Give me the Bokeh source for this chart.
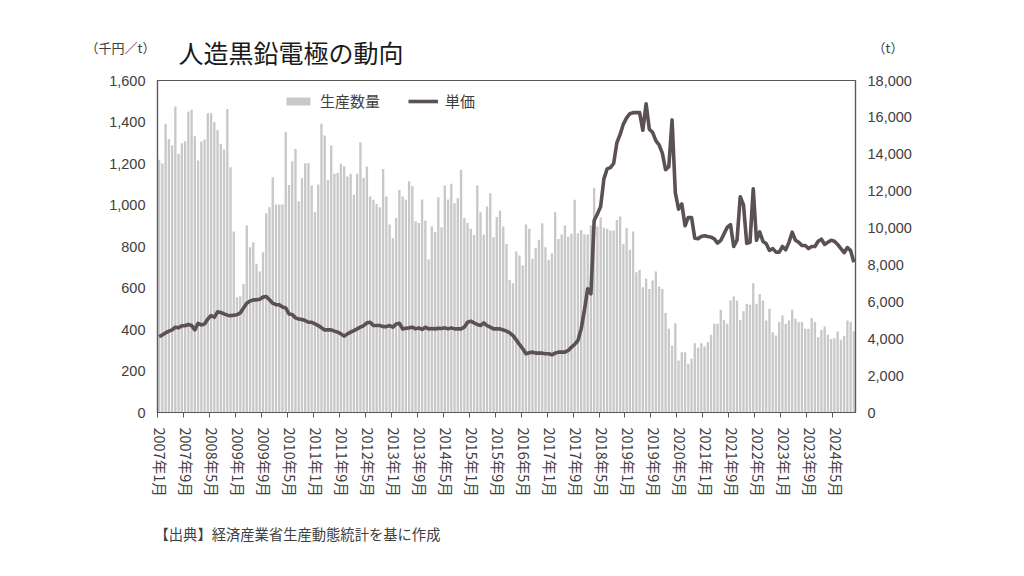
from bokeh.plotting import figure
from bokeh.models import (ColumnDataSource, Range1d, LinearAxis, FixedTicker,
                          NumeralTickFormatter, Label, Legend, LegendItem)
from bokeh.embed import file_html
from bokeh.resources import INLINE

# ---- data (monthly, 2007年1月 .. 2024年11月) ----
tick_labels = ["2007年1月", "2007年9月", "2008年5月", "2009年1月", "2009年9月",
               "2010年5月", "2011年1月", "2011年9月", "2012年5月", "2013年1月",
               "2013年9月", "2014年5月", "2015年1月", "2015年9月", "2016年5月",
               "2017年1月", "2017年9月", "2018年5月", "2019年1月", "2019年9月",
               "2020年5月", "2021年1月", "2021年9月", "2022年5月", "2023年1月",
               "2023年9月", "2024年5月"]

# 生産数量 (t)
qty = [13700, 13500, 15650, 14830, 14470, 16590, 14020, 14600, 14710, 16320,
       16410, 14980, 13660, 14690, 14800, 16230, 16230, 15740, 15320, 14560,
       14260, 16460, 13300, 9810, 6250, 6300, 6970, 10140, 8960, 9230,
       8060, 7640, 8690, 10800, 11130, 12760, 11280, 11280, 11280, 15200,
       12340, 13620, 14290, 11460, 12700, 13520, 13520, 12310, 10860, 12360,
       15650, 15020, 12610, 14470, 12940, 12990, 13480, 13350, 12790, 12940,
       11800, 12940, 14650, 12720, 13340, 11710, 11530, 11310, 11130, 13200,
       11710, 10190, 9450, 10550, 12070, 11710, 11530, 12540, 12270, 10370,
       10280, 11550, 10410, 8290, 10100, 9780, 11670, 10050, 12310, 11550,
       12400, 11350, 11620, 13160, 10550, 10280, 9960, 9630, 12310, 10860,
       9650, 11170, 11890, 9500, 10600, 10950, 10080, 9140, 7190, 7010,
       8730, 8510, 7970, 10190, 9960, 8330, 8930, 9360, 10260, 8960,
       8280, 8640, 10860, 9410, 9650, 10140, 9540, 9690, 11530, 9720,
       9900, 9650, 9650, 10140, 12180, 10080, 10590, 10010, 9960, 9870,
       9870, 10440, 10620, 9140, 9990, 8820, 9810, 7610, 7730, 6790,
       7250, 6700, 7160, 7640, 6830, 6700, 5400, 4540, 3630, 4840,
       2820, 3270, 3270, 2640, 2910, 3760, 3510, 3760, 3580, 3810,
       4210, 4810, 4810, 5570, 5020, 4810, 6070, 6290, 6070, 5020,
       5490, 5890, 5840, 7010, 5890, 6430, 6070, 4990, 5620, 4350,
       4170, 4900, 5260, 4810, 4990, 5570, 5080, 4900, 4900, 4540,
       4540, 5130, 4900, 4080, 4480, 4660, 4210, 3990, 4030, 4390,
       3940, 4150, 4990, 4900, 4400]

# 単価 (千円/t)
price = [366, 374, 384, 392, 398, 411, 408, 418, 418, 424,
         419, 398, 430, 422, 427, 451, 467, 459, 485, 482,
         475, 469, 467, 469, 471, 480, 504, 527, 537, 543,
         543, 546, 556, 559, 543, 527, 520, 519, 508, 504,
         475, 472, 456, 451, 448, 443, 435, 435, 427, 419,
         408, 398, 398, 398, 392, 387, 379, 368, 379, 387,
         395, 403, 411, 419, 432, 435, 419, 419, 419, 414,
         414, 419, 411, 427, 430, 403, 406, 408, 411, 403,
         408, 400, 411, 403, 405, 403, 406, 405, 408, 403,
         408, 403, 403, 403, 411, 435, 440, 432, 424, 419,
         432, 419, 411, 403, 403, 403, 398, 392, 384, 371,
         350, 328, 307, 283, 288, 291, 286, 286, 286, 283,
         283, 278, 286, 291, 291, 291, 299, 315, 328, 347,
         403, 492, 596, 572, 925, 957, 993, 1126, 1174, 1180,
         1200, 1300, 1340, 1390, 1420, 1440, 1445, 1445, 1445, 1360,
         1488, 1365, 1350, 1310, 1290, 1250, 1170, 1185, 1410, 1060,
         980, 1005, 900, 940, 940, 840, 838, 848, 852, 848,
         845, 837, 816, 829, 861, 893, 905, 800, 830, 1040,
         1000, 815, 820, 1078, 830, 870, 825, 813, 781, 790,
         773, 773, 800, 784, 820, 869, 830, 820, 805, 805,
         790, 800, 800, 825, 835, 810, 820, 830, 825, 810,
         790, 770, 795, 780, 724]

price_ticks = [0, 200, 400, 600, 800, 1000, 1200, 1400, 1600]
qty_ticks = [0, 2000, 4000, 6000, 8000, 10000, 12000, 14000, 16000, 18000]

n = len(qty)
src = ColumnDataSource(dict(x=[i + 0.5 for i in range(n)], qty=qty, price=price))

AX = "#595959"
TXT = "#404040"
JP = "Noto Sans CJK JP"

p = figure(width=1024, height=576, output_backend="svg", toolbar_location=None,
           x_range=Range1d(0, n), y_range=Range1d(0, 1600),
           min_border_left=157, min_border_right=169,
           min_border_top=80, min_border_bottom=164)
p.extra_y_ranges = {"qty": Range1d(0, 18000)}
p.xgrid.visible = False
p.ygrid.visible = False
p.outline_line_color = AX
p.outline_line_width = 1.2
p.background_fill_color = "white"
p.border_fill_color = "white"

bars = p.vbar(x="x", top="qty", width=0.72, source=src, y_range_name="qty",
              fill_color="#c8c8c8", line_color=None)
line = p.line(x="x", y="price", source=src, line_color="#5b5054",
              line_width=3.6, line_join="round")


def style_y(ax):
    ax.major_tick_out = 0
    ax.major_tick_in = 0
    ax.minor_tick_out = 0
    ax.minor_tick_in = 0
    ax.axis_line_color = AX
    ax.axis_line_width = 1.2
    ax.major_label_text_font = "Liberation Sans"
    ax.major_label_text_font_size = "14.5px"
    ax.major_label_text_color = TXT
    ax.major_label_standoff = 12


# left axis (price)
yl = p.yaxis[0]
yl.ticker = FixedTicker(ticks=price_ticks)
yl.formatter = NumeralTickFormatter(format="0,0")
style_y(yl)

# right axis (quantity)
yr = LinearAxis(y_range_name="qty", ticker=FixedTicker(ticks=qty_ticks),
                formatter=NumeralTickFormatter(format="0,0"))
style_y(yr)
p.add_layout(yr, "right")

# x axis
xa = p.xaxis[0]
label_pos = [k * 8 + 1 for k in range(len(tick_labels))]
xa.ticker = FixedTicker(ticks=label_pos, minor_ticks=[k * 8 for k in range(len(tick_labels))])
xa.major_label_overrides = {pos: lab for pos, lab in zip(label_pos, tick_labels)}
xa.major_label_orientation = "vertical"
xa.major_tick_out = 0
xa.major_tick_in = 0
xa.minor_tick_out = 5
xa.minor_tick_in = 0
xa.minor_tick_line_color = AX
xa.axis_line_color = AX
xa.axis_line_width = 1.2
xa.major_label_text_font = JP
xa.major_label_text_font_size = "14.5px"
xa.major_label_text_color = TXT
xa.major_label_standoff = 10

# legend
legend = Legend(items=[LegendItem(label="生産数量", renderers=[bars]),
                       LegendItem(label="単価", renderers=[line])],
                location=(126, 301), orientation="horizontal")
legend.background_fill_alpha = 0
legend.border_line_color = None
legend.padding = 0
legend.margin = 0
legend.spacing = 28
legend.label_standoff = 7
legend.glyph_width = 30
legend.glyph_height = 10
legend.label_text_font = JP
legend.label_text_font_size = "15px"
legend.label_text_color = TXT
p.add_layout(legend)

# texts in side panels (panels stack outward from the frame)
above_texts = [
    dict(x=21, y=29, text="人造黒鉛電極の動向", size="25px", color="#1a1a1a"),
    dict(x=-72, y=-3, text="（千円／t）", size="13px", color=TXT),
    dict(x=715, y=-22, text="（t）", size="13px", color=TXT),
]
for t in above_texts:
    p.add_layout(Label(x=t["x"], y=t["y"], x_units="screen", y_units="screen",
                       text=t["text"], text_font=JP, text_font_size=t["size"],
                       text_baseline="middle", text_color=t["color"]), "above")

p.add_layout(Label(x=-3, y=-13, x_units="screen", y_units="screen",
                   text="【出典】経済産業省生産動態統計を基に作成", text_font=JP,
                   text_font_size="14.3px", text_baseline="middle", text_color=TXT), "below")

open("out.html", "w").write(file_html(p, INLINE))
